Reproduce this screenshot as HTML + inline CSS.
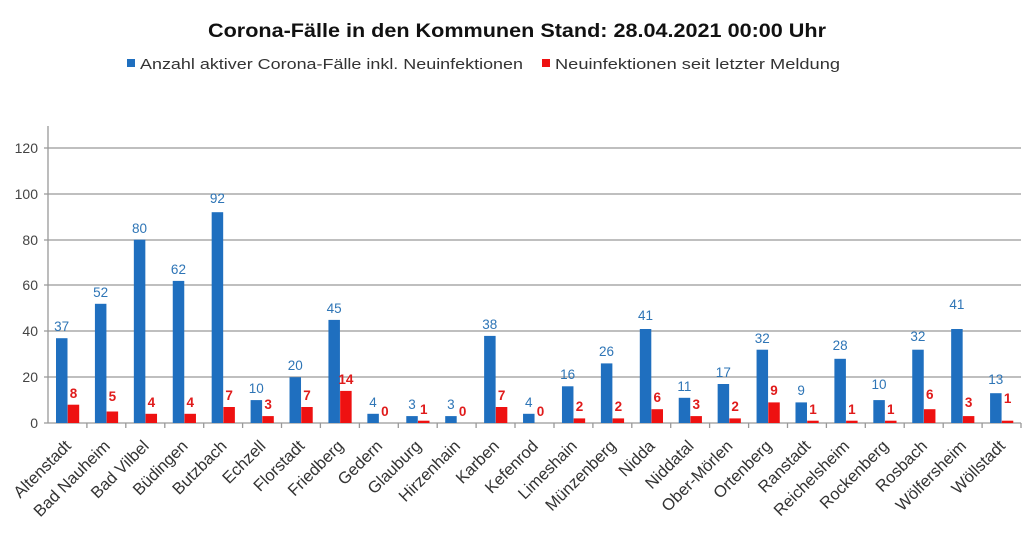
<!DOCTYPE html>
<html><head><meta charset="utf-8"><style>
html,body{margin:0;padding:0;background:#fff;}
svg{display:block;font-family:"Liberation Sans",sans-serif;}
.b{fill:#1f6fbf}.r{fill:#ee1111}
.bl{fill:#2e75b6;font-size:13.5px;text-anchor:middle}
.rl{fill:#e01b1b;font-size:13.5px;font-weight:bold;text-anchor:middle}
.cl{fill:#333;font-size:16.5px;text-anchor:end}
.yl{fill:#444;font-size:14px;text-anchor:end}
</style></head><body>
<svg width="1024" height="534" viewBox="0 0 1024 534">
<text x="517" y="37" text-anchor="middle" font-size="19" font-weight="bold" fill="#111" textLength="618" lengthAdjust="spacingAndGlyphs">Corona-Fälle in den Kommunen Stand: 28.04.2021 00:00 Uhr</text>
<rect x="127" y="59" width="8" height="8" fill="#1f6fbf"/>
<text x="140" y="69" font-size="15" fill="#333" textLength="383" lengthAdjust="spacingAndGlyphs">Anzahl aktiver Corona-Fälle inkl. Neuinfektionen</text>
<rect x="542" y="59" width="8" height="8" fill="#ee1111"/>
<text x="555" y="69" font-size="15" fill="#333" textLength="285" lengthAdjust="spacingAndGlyphs">Neuinfektionen seit letzter Meldung</text>
<g stroke="#999" stroke-width="1.3">
<line x1="44" y1="148" x2="1021" y2="148"/>
<line x1="44" y1="194" x2="1021" y2="194"/>
<line x1="44" y1="240" x2="1021" y2="240"/>
<line x1="44" y1="285" x2="1021" y2="285"/>
<line x1="44" y1="331" x2="1021" y2="331"/>
<line x1="44" y1="377" x2="1021" y2="377"/>
<line x1="44" y1="423" x2="1021" y2="423"/>
<line x1="48" y1="126" x2="48" y2="423"/>
</g>
<g class="yl">
<text x="38" y="153">120</text><text x="38" y="199">100</text><text x="38" y="245">80</text><text x="38" y="290">60</text><text x="38" y="336">40</text><text x="38" y="382">20</text><text x="38" y="428">0</text>
</g>
<g stroke="#999" stroke-width="1.3">
<line x1="86.9" y1="423" x2="86.9" y2="428"/><line x1="125.8" y1="423" x2="125.8" y2="428"/><line x1="164.8" y1="423" x2="164.8" y2="428"/><line x1="203.7" y1="423" x2="203.7" y2="428"/><line x1="242.6" y1="423" x2="242.6" y2="428"/><line x1="281.5" y1="423" x2="281.5" y2="428"/><line x1="320.4" y1="423" x2="320.4" y2="428"/><line x1="359.4" y1="423" x2="359.4" y2="428"/><line x1="398.3" y1="423" x2="398.3" y2="428"/><line x1="437.2" y1="423" x2="437.2" y2="428"/><line x1="476.1" y1="423" x2="476.1" y2="428"/><line x1="515" y1="423" x2="515" y2="428"/><line x1="554" y1="423" x2="554" y2="428"/><line x1="592.9" y1="423" x2="592.9" y2="428"/><line x1="631.8" y1="423" x2="631.8" y2="428"/><line x1="670.7" y1="423" x2="670.7" y2="428"/><line x1="709.6" y1="423" x2="709.6" y2="428"/><line x1="748.6" y1="423" x2="748.6" y2="428"/><line x1="787.5" y1="423" x2="787.5" y2="428"/><line x1="826.4" y1="423" x2="826.4" y2="428"/><line x1="865.3" y1="423" x2="865.3" y2="428"/><line x1="904.2" y1="423" x2="904.2" y2="428"/><line x1="943.2" y1="423" x2="943.2" y2="428"/><line x1="982.1" y1="423" x2="982.1" y2="428"/><line x1="1021" y1="423" x2="1021" y2="428"/>
</g>

<g transform="translate(48,0)"><rect class="b" x="8" y="338.2" width="11.5" height="84.8"/><rect class="r" x="19.7" y="404.7" width="11.5" height="18.3"/><text class="bl" x="13.7" y="331">37</text><text class="rl" x="25.5" y="398">8</text><text class="cl" transform="translate(24,447) rotate(-45)">Altenstadt</text></g>
<g transform="translate(86.92,0)"><rect class="b" x="8" y="303.8" width="11.5" height="119.2"/><rect class="r" x="19.7" y="411.5" width="11.5" height="11.5"/><text class="bl" x="13.7" y="297">52</text><text class="rl" x="25.5" y="401">5</text><text class="cl" transform="translate(24,447) rotate(-45)">Bad Nauheim</text></g>
<g transform="translate(125.84,0)"><rect class="b" x="8" y="239.7" width="11.5" height="183.3"/><rect class="r" x="19.7" y="413.8" width="11.5" height="9.2"/><text class="bl" x="13.7" y="233">80</text><text class="rl" x="25.5" y="407">4</text><text class="cl" transform="translate(24,447) rotate(-45)">Bad Vilbel</text></g>
<g transform="translate(164.76,0)"><rect class="b" x="8" y="280.9" width="11.5" height="142.1"/><rect class="r" x="19.7" y="413.8" width="11.5" height="9.2"/><text class="bl" x="13.7" y="274">62</text><text class="rl" x="25.5" y="407">4</text><text class="cl" transform="translate(24,447) rotate(-45)">Büdingen</text></g>
<g transform="translate(203.68,0)"><rect class="b" x="8" y="212.2" width="11.5" height="210.8"/><rect class="r" x="19.7" y="407" width="11.5" height="16"/><text class="bl" x="13.7" y="203">92</text><text class="rl" x="25.5" y="400">7</text><text class="cl" transform="translate(24,447) rotate(-45)">Butzbach</text></g>
<g transform="translate(242.6,0)"><rect class="b" x="8" y="400.1" width="11.5" height="22.9"/><rect class="r" x="19.7" y="416.1" width="11.5" height="6.9"/><text class="bl" x="13.7" y="393">10</text><text class="rl" x="25.5" y="409">3</text><text class="cl" transform="translate(24,447) rotate(-45)">Echzell</text></g>
<g transform="translate(281.52,0)"><rect class="b" x="8" y="377.2" width="11.5" height="45.8"/><rect class="r" x="19.7" y="407" width="11.5" height="16"/><text class="bl" x="13.7" y="370">20</text><text class="rl" x="25.5" y="400">7</text><text class="cl" transform="translate(24,447) rotate(-45)">Florstadt</text></g>
<g transform="translate(320.44,0)"><rect class="b" x="8" y="319.9" width="11.5" height="103.1"/><rect class="r" x="19.7" y="390.9" width="11.5" height="32.1"/><text class="bl" x="13.7" y="313">45</text><text class="rl" x="25.5" y="384">14</text><text class="cl" transform="translate(24,447) rotate(-45)">Friedberg</text></g>
<g transform="translate(359.36,0)"><rect class="b" x="8" y="413.8" width="11.5" height="9.2"/><text class="bl" x="13.7" y="407">4</text><text class="rl" x="25.5" y="416">0</text><text class="cl" transform="translate(24,447) rotate(-45)">Gedern</text></g>
<g transform="translate(398.28,0)"><rect class="b" x="8" y="416.1" width="11.5" height="6.9"/><rect class="r" x="19.7" y="420.7" width="11.5" height="2.3"/><text class="bl" x="13.7" y="409">3</text><text class="rl" x="25.5" y="414">1</text><text class="cl" transform="translate(24,447) rotate(-45)">Glauburg</text></g>
<g transform="translate(437.2,0)"><rect class="b" x="8" y="416.1" width="11.5" height="6.9"/><text class="bl" x="13.7" y="409">3</text><text class="rl" x="25.5" y="416">0</text><text class="cl" transform="translate(24,447) rotate(-45)">Hirzenhain</text></g>
<g transform="translate(476.12,0)"><rect class="b" x="8" y="335.9" width="11.5" height="87.1"/><rect class="r" x="19.7" y="407" width="11.5" height="16"/><text class="bl" x="13.7" y="329">38</text><text class="rl" x="25.5" y="400">7</text><text class="cl" transform="translate(24,447) rotate(-45)">Karben</text></g>
<g transform="translate(515.04,0)"><rect class="b" x="8" y="413.8" width="11.5" height="9.2"/><text class="bl" x="13.7" y="407">4</text><text class="rl" x="25.5" y="416">0</text><text class="cl" transform="translate(24,447) rotate(-45)">Kefenrod</text></g>
<g transform="translate(553.96,0)"><rect class="b" x="8" y="386.3" width="11.5" height="36.7"/><rect class="r" x="19.7" y="418.4" width="11.5" height="4.6"/><text class="bl" x="13.7" y="379">16</text><text class="rl" x="25.5" y="411">2</text><text class="cl" transform="translate(24,447) rotate(-45)">Limeshain</text></g>
<g transform="translate(592.88,0)"><rect class="b" x="8" y="363.4" width="11.5" height="59.6"/><rect class="r" x="19.7" y="418.4" width="11.5" height="4.6"/><text class="bl" x="13.7" y="356">26</text><text class="rl" x="25.5" y="411">2</text><text class="cl" transform="translate(24,447) rotate(-45)">Münzenberg</text></g>
<g transform="translate(631.8,0)"><rect class="b" x="8" y="329" width="11.5" height="94"/><rect class="r" x="19.7" y="409.2" width="11.5" height="13.8"/><text class="bl" x="13.7" y="320">41</text><text class="rl" x="25.5" y="402">6</text><text class="cl" transform="translate(24,447) rotate(-45)">Nidda</text></g>
<g transform="translate(670.72,0)"><rect class="b" x="8" y="397.8" width="11.5" height="25.2"/><rect class="r" x="19.7" y="416.1" width="11.5" height="6.9"/><text class="bl" x="13.7" y="391">11</text><text class="rl" x="25.5" y="409">3</text><text class="cl" transform="translate(24,447) rotate(-45)">Niddatal</text></g>
<g transform="translate(709.64,0)"><rect class="b" x="8" y="384" width="11.5" height="39"/><rect class="r" x="19.7" y="418.4" width="11.5" height="4.6"/><text class="bl" x="13.7" y="377">17</text><text class="rl" x="25.5" y="411">2</text><text class="cl" transform="translate(24,447) rotate(-45)">Ober-Mörlen</text></g>
<g transform="translate(748.56,0)"><rect class="b" x="8" y="349.7" width="11.5" height="73.3"/><rect class="r" x="19.7" y="402.4" width="11.5" height="20.6"/><text class="bl" x="13.7" y="343">32</text><text class="rl" x="25.5" y="395">9</text><text class="cl" transform="translate(24,447) rotate(-45)">Ortenberg</text></g>
<g transform="translate(787.48,0)"><rect class="b" x="8" y="402.4" width="11.5" height="20.6"/><rect class="r" x="19.7" y="420.7" width="11.5" height="2.3"/><text class="bl" x="13.7" y="395">9</text><text class="rl" x="25.5" y="414">1</text><text class="cl" transform="translate(24,447) rotate(-45)">Ranstadt</text></g>
<g transform="translate(826.4,0)"><rect class="b" x="8" y="358.8" width="11.5" height="64.2"/><rect class="r" x="19.7" y="420.7" width="11.5" height="2.3"/><text class="bl" x="13.7" y="350">28</text><text class="rl" x="25.5" y="414">1</text><text class="cl" transform="translate(24,447) rotate(-45)">Reichelsheim</text></g>
<g transform="translate(865.32,0)"><rect class="b" x="8" y="400.1" width="11.5" height="22.9"/><rect class="r" x="19.7" y="420.7" width="11.5" height="2.3"/><text class="bl" x="13.7" y="389">10</text><text class="rl" x="25.5" y="414">1</text><text class="cl" transform="translate(24,447) rotate(-45)">Rockenberg</text></g>
<g transform="translate(904.24,0)"><rect class="b" x="8" y="349.7" width="11.5" height="73.3"/><rect class="r" x="19.7" y="409.2" width="11.5" height="13.8"/><text class="bl" x="13.7" y="341">32</text><text class="rl" x="25.5" y="399">6</text><text class="cl" transform="translate(24,447) rotate(-45)">Rosbach</text></g>
<g transform="translate(943.16,0)"><rect class="b" x="8" y="329" width="11.5" height="94"/><rect class="r" x="19.7" y="416.1" width="11.5" height="6.9"/><text class="bl" x="13.7" y="309">41</text><text class="rl" x="25.5" y="407">3</text><text class="cl" transform="translate(24,447) rotate(-45)">Wölfersheim</text></g>
<g transform="translate(982.08,0)"><rect class="b" x="8" y="393.2" width="11.5" height="29.8"/><rect class="r" x="19.7" y="420.7" width="11.5" height="2.3"/><text class="bl" x="13.7" y="384">13</text><text class="rl" x="25.5" y="403">1</text><text class="cl" transform="translate(24,447) rotate(-45)">Wöllstadt</text></g>
</svg>
</body></html>
